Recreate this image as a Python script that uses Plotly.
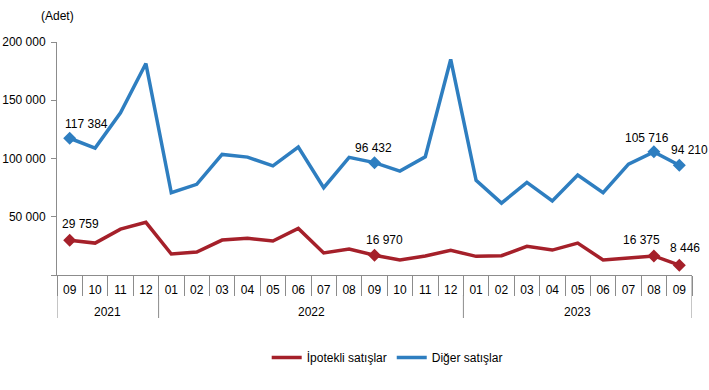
import plotly.graph_objects as go

months = ["09", "10", "11", "12",
          "01", "02", "03", "04", "05", "06", "07", "08", "09", "10", "11", "12",
          "01", "02", "03", "04", "05", "06", "07", "08", "09"]
years = ["2021", "2022", "2023"]
year_counts = [4, 12, 9]

ipotekli = [29759, 27400, 39400, 45200,
            18000, 19700, 30000, 31500, 29200, 40000, 18900, 22300, 16970, 12900, 16300, 21200,
            16000, 16600, 24600, 21400, 27400, 12900, 14600, 16375, 8446]
diger = [117384, 109000, 139200, 181500,
         70600, 77800, 103500, 101200, 93700, 109800, 74900, 101000, 96432, 89200, 101500, 185000,
         81200, 61700, 79500, 63500, 85800, 70600, 95200, 105716, 94210]

labeled_idx = [0, 12, 23, 24]
y_ticks = [0, 50000, 100000, 150000, 200000]

RED = "#A5202A"
BLUE = "#2E7EC0"
GRAY = "#8C8C8C"
FONT = "Liberation Sans, Arial, sans-serif"


def fmt(v):
    return f"{v:,}".replace(",", " ")


x = list(range(len(months)))

fig = go.Figure()
fig.add_trace(go.Scatter(x=x, y=ipotekli, mode="lines", name="İpotekli satışlar",
                         line=dict(color=RED, width=3.5)))
fig.add_trace(go.Scatter(x=x, y=diger, mode="lines", name="Diğer satışlar",
                         line=dict(color=BLUE, width=3.5)))

# markers at labelled points
for series, color in [(ipotekli, RED), (diger, BLUE)]:
    fig.add_trace(go.Scatter(x=labeled_idx, y=[series[i] for i in labeled_idx], mode="markers",
                             marker=dict(symbol="diamond", size=10, color=color),
                             showlegend=False, hoverinfo="skip"))

# data labels
shifts_red = {0: (11, 16), 12: (10, 15), 23: (-12, 16), 24: (6, 17)}
shifts_blue = {0: (17, 14), 12: (-1, 15), 23: (-7, 14), 24: (10, 15)}
for series, shifts in [(ipotekli, shifts_red), (diger, shifts_blue)]:
    for i in labeled_idx:
        dx, dy = shifts[i]
        fig.add_annotation(x=i, y=series[i], text=fmt(series[i]), showarrow=False,
                           xshift=dx, yshift=dy, font=dict(size=12, color="#000", family=FONT))

# year labels & dividers
plot_h = 233.0
start = 0
bounds = [-0.5]
for yr, cnt in zip(years, year_counts):
    center = start + (cnt - 1) / 2
    fig.add_annotation(x=center, y=-(37 / plot_h), yref="paper", yanchor="middle",
                       text=yr, showarrow=False,
                       font=dict(size=12, color="#000", family=FONT))
    start += cnt
    bounds.append(start - 0.5)
for i, b in enumerate(bounds):
    y0 = 0 if i in (0, len(bounds) - 1) else -(20 / plot_h)
    fig.add_shape(type="line", x0=b, x1=b, y0=y0, y1=-(43 / plot_h), yref="paper",
                  line=dict(color=GRAY, width=1))

fig.add_annotation(x=0, xref="paper", xanchor="center", y=1 + 26 / plot_h, yref="paper",
                   yanchor="middle", text="(Adet)", showarrow=False,
                   font=dict(size=12, color="#000", family=FONT))

fig.update_layout(
    width=709, height=390,
    margin=dict(l=57, r=17, t=42, b=115, autoexpand=False),
    paper_bgcolor="white", plot_bgcolor="white",
    font=dict(family=FONT, size=12, color="#000"),
    showlegend=True,
    legend=dict(orientation="h", x=0.52, xanchor="center", y=-(68 / plot_h), yanchor="top",
                font=dict(size=12), itemwidth=30, traceorder="normal"),
    xaxis=dict(range=[-0.5, len(months) - 0.5], tickmode="array", tickvals=x, ticktext=months,
               showline=True, linecolor=GRAY, linewidth=1, ticks="", showgrid=False,
               zeroline=False, ticklabelstandoff=4, automargin=False,
               minor=dict(ticks="outside", ticklen=20, tick0=-0.5, dtick=1, tickcolor=GRAY,
                          showgrid=False)),
    yaxis=dict(range=[0, 200000], tickmode="array", tickvals=y_ticks,
               ticktext=["" if v == 0 else fmt(v) for v in y_ticks],
               showline=True, linecolor=GRAY, linewidth=1, ticks="outside", ticklen=5,
               tickcolor=GRAY, showgrid=False, zeroline=False, automargin=False,
               ticklabelstandoff=3),
)

fig.write_html("out.html", config={"displayModeBar": False},
               post_script="document.body.style.margin='0';")
